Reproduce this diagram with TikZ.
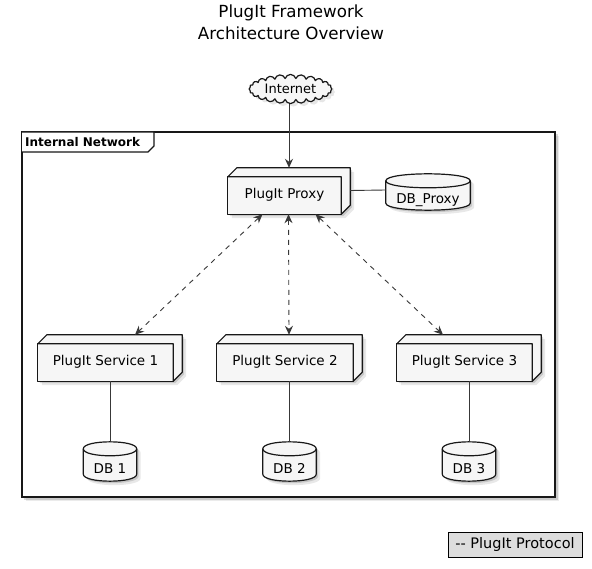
\documentclass[tikz,border=0pt]{standalone}
\usepackage{fontspec}
\setmainfont{DejaVu Sans}
\usetikzlibrary{shapes.symbols,arrows.meta,shadows}
\pgfdeclarelayer{back}
\pgfdeclarelayer{shadow}
\pgfdeclarelayer{shapes}
\pgfsetlayers{back,shadow,shapes,main}
\definecolor{nodefill}{HTML}{F6F6F6}
\definecolor{linecol}{HTML}{181818}
\definecolor{arrowcol}{HTML}{383838}
\definecolor{legendfill}{HTML}{DDDDDD}
\tikzset{
  nodefont/.style={font=\fontsize{13.5}{16}\selectfont},
  boxnode/.style={nodefont, rectangle, minimum height=37pt, inner sep=0pt, text height=10pt, text depth=3pt},
  dbnode/.style={nodefont, rectangle, inner sep=0pt, text height=23pt, text depth=0pt},
  shapeline/.style={draw=linecol, line width=1.2pt, fill=nodefill, line join=round},
  link/.style={draw=arrowcol, line width=0.9pt},
  proto/.style={link, dash pattern=on 5pt off 5pt, {Stealth[length=9pt,width=8pt,inset=3pt]}-{Stealth[length=9pt,width=8pt,inset=3pt]}},
}
\newcommand\boxthreed[2]{%
  \begin{pgfonlayer}{shadow}
    \foreach \s/\o in {2/0.14,4/0.09}{
      \fill[black, opacity=\o, transform canvas={shift={(\s pt,-\s pt)}}] (#1.south west) -- (#1.north west) -- ++(#2,-#2) -- ([shift={(#2,-#2)}]#1.north east) -- ([shift={(#2,-#2)}]#1.south east) -- (#1.south east) -- cycle;
    }
  \end{pgfonlayer}
  \begin{pgfonlayer}{shapes}
    \draw[shapeline] (#1.south west) rectangle (#1.north east);
    \draw[shapeline] (#1.north west) -- ++(#2,-#2) -- ([shift={(#2,-#2)}]#1.north east) -- ([shift={(#2,-#2)}]#1.south east) -- (#1.south east) -- (#1.north east) -- cycle;
  \end{pgfonlayer}
}
\newcommand\cylinderdb[1]{%
  \begin{pgfonlayer}{shadow}
    \foreach \s/\o in {2/0.14,4/0.09}{
      \fill[black, opacity=\o, transform canvas={shift={(\s pt,-\s pt)}}] ([yshift=-7pt]#1.north west) .. controls ([yshift=2.3pt]#1.north west) and ([yshift=2.3pt]#1.north east) .. ([yshift=-7pt]#1.north east) -- ([yshift=7pt]#1.south east) .. controls ([yshift=-2.3pt]#1.south east) and ([yshift=-2.3pt]#1.south west) .. ([yshift=7pt]#1.south west) -- cycle;
    }
  \end{pgfonlayer}
  \begin{pgfonlayer}{shapes}
    \draw[shapeline] ([yshift=-7pt]#1.north west) .. controls ([yshift=2.3pt]#1.north west) and ([yshift=2.3pt]#1.north east) .. ([yshift=-7pt]#1.north east) -- ([yshift=7pt]#1.south east) .. controls ([yshift=-2.3pt]#1.south east) and ([yshift=-2.3pt]#1.south west) .. ([yshift=7pt]#1.south west) -- cycle;
    \draw[shapeline, fill=none] ([yshift=-7pt]#1.north west) .. controls ([yshift=-16.3pt]#1.north west) and ([yshift=-16.3pt]#1.north east) .. ([yshift=-7pt]#1.north east);
  \end{pgfonlayer}
}
\begin{document}
\begin{tikzpicture}[x=1pt,y=-1pt]
\useasboundingbox (0,0) rectangle (592,569);

% title
\node[font=\fontsize{16.7}{22}\selectfont, align=center] (title) at (291,22) {PlugIt Framework\\Architecture Overview};

% frame
\begin{pgfonlayer}{back}
  \fill[black, opacity=0.14] (24,134) rectangle (557.5,499.5);
  \fill[black, opacity=0.08] (26,136) rectangle (559,501);
  \draw[linecol, line width=1.6pt, fill=white] (22,132) rectangle (555,497);
  \draw[linecol, line width=1.3pt, fill=white] (22,132) -- (154,132) -- (154,146) -- (148,152) -- (22,152);
\end{pgfonlayer}
\node[font=\bfseries\fontsize{12}{14}\selectfont, anchor=west, inner sep=0pt] (netlabel) at (25,142) {Internal Network};

% cloud
\node[cloud, cloud puffs=24, cloud puff arc=150, aspect=3.4, minimum width=83pt, minimum height=25pt, inner sep=0.5pt, shapeline, font=\fontsize{13}{15}\selectfont, drop shadow={shadow xshift=3pt, shadow yshift=-3pt, opacity=0.2}] (internet) at (290.5,89) {Internet};

% nodes
\node[boxnode, minimum width=113pt] (proxy) at (284.5,195.5) {PlugIt Proxy};
\node[boxnode, minimum width=135pt] (svc1) at (105.5,362.5) {PlugIt Service 1};
\node[boxnode, minimum width=136pt] (svc2) at (285,362.5) {PlugIt Service 2};
\node[boxnode, minimum width=135pt] (svc3) at (464.5,362.5) {PlugIt Service 3};
\boxthreed{proxy}{9}
\boxthreed{svc1}{9}
\boxthreed{svc2}{9}
\boxthreed{svc3}{9}

\node[dbnode, minimum width=84pt, minimum height=36pt] (dbp) at (428,192) {DB\_Proxy};
\node[dbnode, minimum width=53pt, minimum height=39pt] (db1) at (110,461.5) {DB 1};
\node[dbnode, minimum width=53pt, minimum height=39pt] (db2) at (289.5,461.5) {DB 2};
\node[dbnode, minimum width=53pt, minimum height=39pt] (db3) at (469,461.5) {DB 3};
\cylinderdb{dbp}
\cylinderdb{db1}
\cylinderdb{db2}
\cylinderdb{db3}

% connectors
\coordinate (proxytop) at ([xshift=4.5pt,yshift=9pt]proxy.north);
\draw[link, -{Stealth[length=9pt,width=8pt,inset=3pt]}] (internet.south -| proxytop) -- (proxytop);
\draw[link] ([shift={(9,-5)}]proxy.east) -- ([yshift=2pt]dbp.west);
\draw[proto] ([xshift=-22pt]proxy.south) -- ([xshift=29.5pt,yshift=9pt]svc1.north);
\draw[proto] ([xshift=4pt]proxy.south) -- ([xshift=4pt,yshift=9pt]svc2.north);
\draw[proto] ([xshift=31pt]proxy.south) -- ([xshift=-21.5pt,yshift=9pt]svc3.north);
\draw[link] ([xshift=4.5pt]svc1.south) -- (db1.north);
\draw[link] ([xshift=4.5pt]svc2.south) -- (db2.north);
\draw[link] ([xshift=4.5pt]svc3.south) -- (db3.north);

% legend
\node[draw=black, fill=legendfill, line width=0.8pt, minimum width=134pt, minimum height=25pt, inner sep=0pt, font=\fontsize{14.5}{17}\selectfont] (legend) at (515,544.5) {-{}- PlugIt Protocol};
\end{tikzpicture}
\end{document}
